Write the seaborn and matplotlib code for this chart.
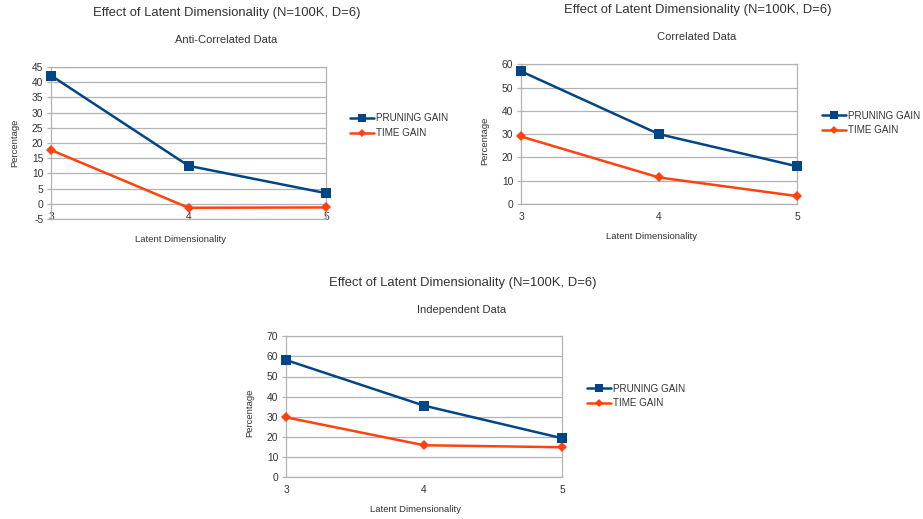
import numpy as np
import pandas as pd
import seaborn as sns
import matplotlib.pyplot as plt
from matplotlib.lines import Line2D

sns.set_theme(style="white")
plt.rcParams["font.family"] = ["Liberation Sans", "DejaVu Sans"]
plt.rcParams["axes.unicode_minus"] = False

# Latent dimensionality values on the x axis
dims = [3, 4, 5]
series_names = ["PRUNING GAIN", "TIME GAIN"]

# Percent gains per data distribution
anti_pruning = [42.2, 12.5, 3.5]
anti_time = [17.7, -1.3, -1.2]
corr_pruning = [57.0, 30.0, 16.2]
corr_time = [29.0, 11.4, 3.4]
indep_pruning = [58.2, 35.5, 19.3]
indep_time = [29.7, 15.8, 14.8]

main_title = "Effect of Latent Dimensionality (N=100K, D=6)"
subtitles = ["Anti-Correlated Data", "Correlated Data", "Independent Data"]
y_ticks = [list(range(-5, 50, 5)), list(range(0, 70, 10)), list(range(0, 80, 10))]

BLUE = "#004586"
ORANGE = "#ff420e"
GRID = "#b3b3b3"
TXT = "#333333"

W, H = 923, 519
fig = plt.figure(figsize=(W / 100, H / 100), dpi=100)


def px_axes(l, t, r, b):
    return fig.add_axes([l / W, 1 - b / H, (r - l) / W, (b - t) / H])


def ftext(x, y, s, **kw):
    fig.text(x / W, 1 - y / H, s, ha="center", va="center", color=TXT, **kw)


panels = [
    dict(box=(51, 67, 326, 219), pruning=anti_pruning, time=anti_time,
         title=(226.7, 13), sub=(226, 40), xlab=(180.5, 239), ylab=(15, 143),
         leg=(350, 125.5), xpad=-5),
    dict(box=(521, 64.3, 797, 204), pruning=corr_pruning, time=corr_time,
         title=(697.5, 10), sub=(697, 37), xlab=(651, 237), ylab=(485, 141),
         leg=(822, 123), xpad=6),
    dict(box=(286, 336.3, 562, 477), pruning=indep_pruning, time=indep_time,
         title=(462.5, 283), sub=(462, 310), xlab=(416, 509), ylab=(250, 413),
         leg=(587, 396), xpad=6),
]

for i, p in enumerate(panels):
    ax = px_axes(*p["box"])
    sns.lineplot(x=dims, y=p["pruning"], ax=ax, color=BLUE, linewidth=1.8,
                 marker="s", markersize=6.5, markeredgewidth=0, clip_on=False,
                 zorder=4)
    sns.lineplot(x=dims, y=p["time"], ax=ax, color=ORANGE, linewidth=1.8,
                 marker="D", markersize=5, markeredgewidth=0, clip_on=False,
                 zorder=3)
    yt = y_ticks[i]
    ax.set_xlim(dims[0], dims[-1])
    ax.set_ylim(yt[0], yt[-1])
    ax.set_xticks(dims)
    ax.set_yticks(yt)
    ax.yaxis.grid(True, color=GRID, linewidth=0.9)
    ax.set_axisbelow(True)
    for s in ax.spines.values():
        s.set_color(GRID)
        s.set_linewidth(0.9)
    ax.tick_params(axis="y", length=3, width=0.9, color=GRID, pad=2.5,
                   labelsize=7.4, labelcolor=TXT, left=True)
    ax.tick_params(axis="x", length=0, pad=p["xpad"], labelsize=7.4,
                   labelcolor=TXT)
    ax.set_xlabel("")
    ax.set_ylabel("")
    ax.set_facecolor("white")

    ftext(*p["title"], main_title, fontsize=9.4)
    ftext(*p["sub"], subtitles[i], fontsize=8)
    ftext(*p["xlab"], "Latent Dimensionality", fontsize=6.8)
    ftext(*p["ylab"], "Percentage", fontsize=6.8, rotation=90)

    handles = [
        Line2D([], [], color=BLUE, linewidth=1.8, marker="s", markersize=6,
               markeredgewidth=0),
        Line2D([], [], color=ORANGE, linewidth=1.8, marker="D", markersize=4.5,
               markeredgewidth=0),
    ]
    lx, ly = p["leg"]
    leg = fig.legend(handles, series_names, loc="center left",
                     bbox_to_anchor=(lx / W, 1 - ly / H), frameon=False,
                     fontsize=7.1, handlelength=2.4, handletextpad=0.25,
                     labelspacing=0.5, borderpad=0, borderaxespad=0)
    for t in leg.get_texts():
        t.set_color(TXT)

fig.savefig("out.png", dpi=100, facecolor="white")
